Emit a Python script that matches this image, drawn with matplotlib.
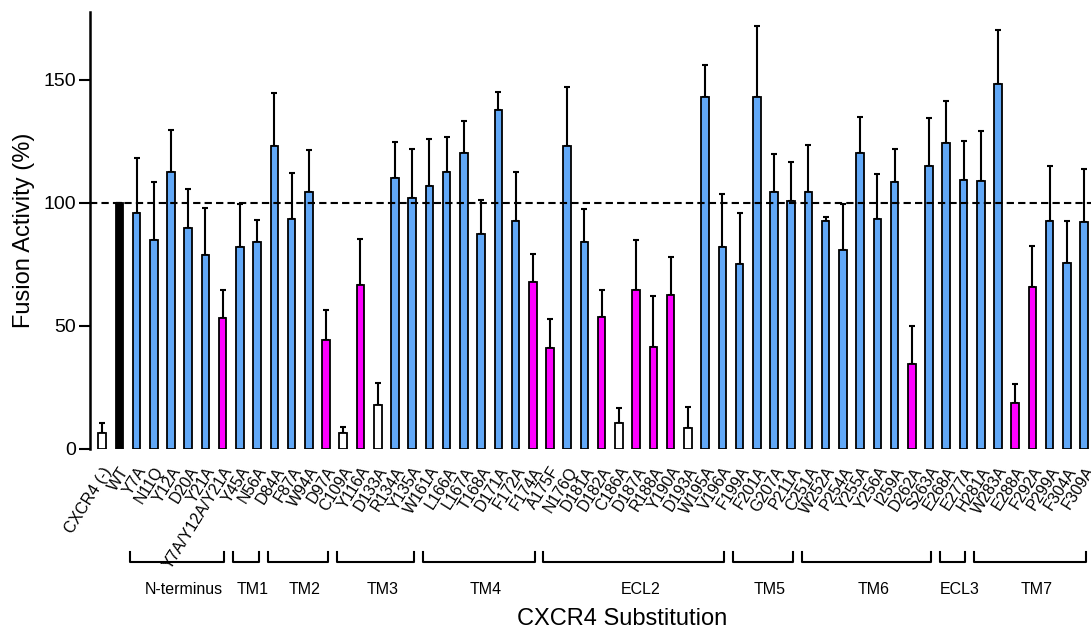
import numpy as np
import matplotlib
matplotlib.use('Agg')
import matplotlib.pyplot as plt

plt.rcParams['font.family'] = ['Liberation Sans', 'DejaVu Sans']

labels = ['CXCR4 (-)', 'WT', 'Y7A', 'N11Q', 'Y12A', 'D20A', 'Y21A', 'Y7A/Y12A/Y21A',
          'Y45A', 'N56A', 'D84A', 'F87A', 'W94A', 'D97A', 'C109A', 'Y116A', 'D133A',
          'R134A', 'Y135A', 'W161A', 'L166A', 'L167A', 'T168A', 'D171A', 'F172A',
          'F174A', 'A175F', 'N176Q', 'D181A', 'D182A', 'C186A', 'D187A', 'R188A',
          'Y190A', 'D193A', 'W195A', 'V196A', 'F199A', 'F201A', 'G207A', 'P211A',
          'C251A', 'W252A', 'P254A', 'Y255A', 'Y256A', 'I259A', 'D262A', 'S263A',
          'E268A', 'E277A', 'H281A', 'W283A', 'E288A', 'F292A', 'P299A', 'F304A', 'F309A']

activity = [6.6, 100, 95.8, 85, 112.6, 89.6, 79, 53.3,
            82, 84, 123, 93.5, 104.5, 44.3, 6.6, 66.5, 17.9,
            110.2, 101.9, 107, 112.5, 120.3, 87.3, 137.8, 92.8,
            68, 41.2, 123.2, 84, 53.8, 10.4, 64.8, 41.5,
            62.7, 8.4, 143.2, 82, 75.2, 143.1, 104.5, 100.8,
            104.5, 92.5, 81, 120.3, 93.6, 108.3, 34.7, 115,
            124.5, 109.2, 108.8, 148.4, 18.6, 66, 92.8, 75.7, 92.4]

err_top = [10.7, 100, 118.4, 108.5, 129.8, 105.8, 98.1, 64.5,
           99.6, 93.1, 144.7, 112.2, 121.4, 56.4, 8.8, 85.4, 27,
           124.9, 121.9, 126, 126.8, 133.3, 101.2, 145, 112.5,
           79.1, 52.7, 147, 97.6, 64.8, 16.5, 84.8, 62.3,
           78.2, 17, 156, 103.5, 96, 171.7, 119.9, 116.5,
           123.7, 94.3, 99.6, 135, 111.8, 122, 50, 134.4,
           141.6, 125.1, 129.3, 170.3, 26.3, 82.6, 115.2, 92.6, 113.7]

# group: n = negative/low (white), w = wild type, r = reduced (magenta), b = normal
group = ['n', 'w', 'b', 'b', 'b', 'b', 'b', 'r',
         'b', 'b', 'b', 'b', 'b', 'r', 'n', 'r', 'n',
         'b', 'b', 'b', 'b', 'b', 'b', 'b', 'b',
         'r', 'r', 'b', 'b', 'r', 'n', 'r', 'r',
         'r', 'n', 'b', 'b', 'b', 'b', 'b', 'b',
         'b', 'b', 'b', 'b', 'b', 'b', 'r', 'b',
         'b', 'b', 'b', 'b', 'r', 'r', 'b', 'b', 'b']

regions = ['N-terminus', 'TM1', 'TM2', 'TM3', 'TM4', 'ECL2', 'TM5', 'TM6', 'ECL3', 'TM7']
region_first = ['Y7A', 'Y45A', 'D84A', 'C109A', 'W161A', 'A175F', 'F199A', 'C251A', 'E268A', 'H281A']
region_last = ['Y7A/Y12A/Y21A', 'N56A', 'D97A', 'Y135A', 'F174A', 'V196A', 'P211A', 'S263A', 'E277A', 'F309A']

colmap = {'n': 'white', 'w': 'black', 'r': '#ff00ff', 'b': '#61a8f7'}
colors = [colmap[g] for g in group]

activity = np.array(activity)
err = np.array(err_top) - activity
x = np.arange(len(labels))

fig = plt.figure(figsize=(10.91, 6.29), dpi=100)
ax = fig.add_axes([0.0825, 0.2862, 0.9175, 0.6948])

ax.bar(x, activity, width=0.44, color=colors, edgecolor='black', linewidth=1.3, zorder=2)
ax.errorbar(x, activity, yerr=[np.zeros_like(err), err], fmt='none', ecolor='black',
            elinewidth=1.5, capsize=2.5, capthick=1.5, zorder=1)
ax.axhline(100, color='black', lw=1.5, ls=(0, (3.5, 2)), zorder=3)

ax.set_xlim(-0.7, 57.4)
ax.set_ylim(0, 177.6)
ax.set_yticks([0, 50, 100, 150])
ax.tick_params(axis='y', labelsize=14, length=8, width=1.5, pad=2)
ax.set_xticks(x)
ax.set_xticklabels(labels, rotation=58, ha='right', rotation_mode='anchor', fontsize=11.5)
ax.tick_params(axis='x', length=0, pad=11)

for s in ['top', 'right', 'bottom']:
    ax.spines[s].set_visible(False)
ax.spines['left'].set_linewidth(1.8)

ax.set_ylabel('Fusion Activity (%)', fontsize=17, labelpad=6)
ax.set_xlabel('CXCR4 Substitution', fontsize=17, va='center')
ax.xaxis.set_label_coords(0.532, -0.389)

# domain brackets under the tick labels
y_hi, y_lo, y_txt = -41.9, -45.9, -57.3
for name, a, b in zip(regions, region_first, region_last):
    x0 = labels.index(a) - 0.38
    x1 = labels.index(b) + 0.1
    ax.plot([x0, x0, x1, x1], [y_hi, y_lo, y_lo, y_hi], color='black', lw=1.5,
            clip_on=False)
    ax.text((x0 + x1) / 2 + 0.4, y_txt, name, ha='center', va='center', fontsize=11.5)

fig.savefig('out.png', dpi=100)
